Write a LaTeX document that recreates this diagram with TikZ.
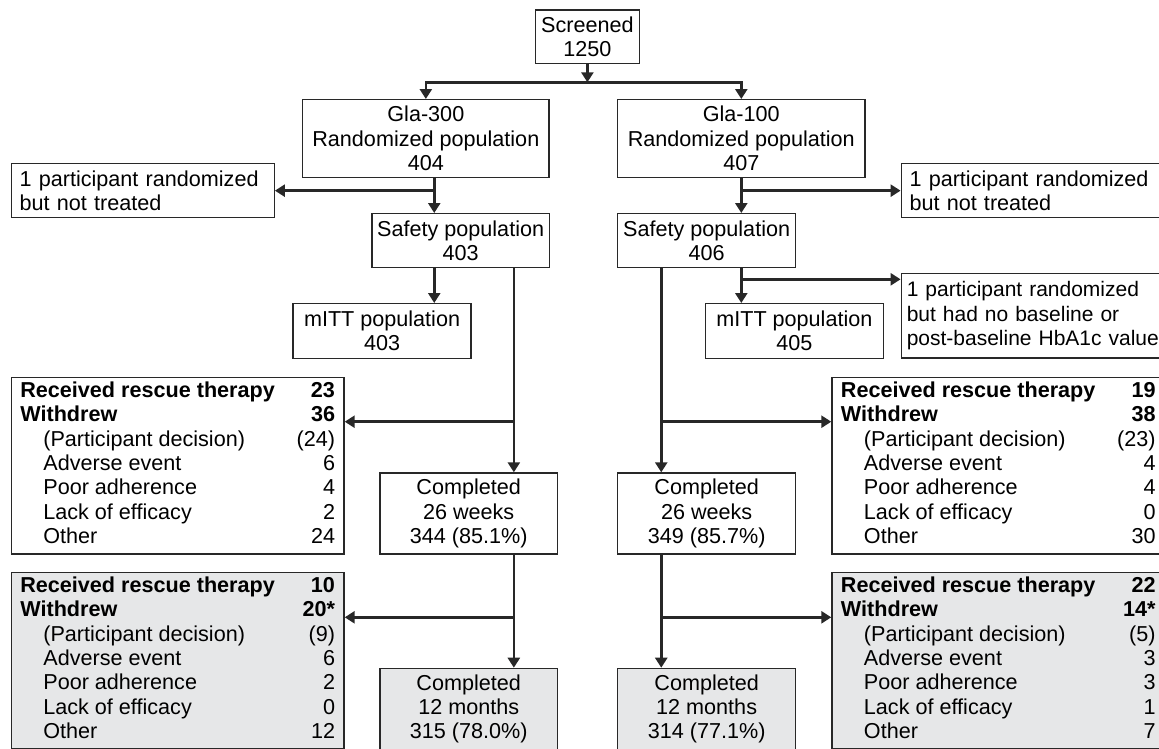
\documentclass[tikz,border=0pt]{standalone}
\usepackage{fontspec}
\setmainfont{Liberation Sans}
\usepackage{tikz}
\usetikzlibrary{arrows.meta}
\usetikzlibrary{calc}
\usetikzlibrary{positioning}

\definecolor{boxgray}{RGB}{230,231,232}
\definecolor{linegray}{RGB}{40,40,40}

\newcommand{\dropouts}[7]{%
  \begin{tabular*}{314.7pt}{@{}l@{\extracolsep{\fill}}r@{}}
  \textbf{Received rescue therapy} & \textbf{#1}\\
  \textbf{Withdrew} & \textbf{#2}\\
  \hspace{23pt}(Participant decision) & #3\\
  \hspace{23pt}Adverse event & #4\\
  \hspace{23pt}Poor adherence & #5\\
  \hspace{23pt}Lack of efficacy & #6\\
  \hspace{23pt}Other & #7
  \end{tabular*}}

\begin{document}
\begin{tikzpicture}[
  x=1pt, y=-1pt,
  > = {Triangle[length=10pt,width=12pt]},
  every node/.style = {font=\fontsize{21.6}{24.3}\selectfont, text=black},
  box/.style = {draw=linegray, line width=1.3pt, inner sep=0pt, anchor=north west, align=center},
  note/.style = {box, align=left, inner xsep=8.3pt},
  tally/.style = {box, inner xsep=9pt, inner ysep=0pt, minimum height=176.6pt},
  shaded/.style = {fill=boxgray},
  flow/.style = {->, draw=linegray, line width=2.6pt}
  ]
	\useasboundingbox (0,0) rectangle (1159,748);

	\node[box, minimum width=103.5pt, minimum height=53.4pt] (scr) at (535,9.3) {Screened\\1250};
	\node[box, minimum width=246.4pt, minimum height=77.7pt] (g300) at (302,99) {Gla-300\\Randomized population\\404};
	\node[box, minimum width=247.3pt, minimum height=77.7pt] (g100) at (617,99) {Gla-100\\Randomized population\\407};

	\node[note, text width=246.3pt, minimum height=54pt] (nt300) at (10.7,163) {1 participant randomized\\but not treated};
	\node[note, text width=246.3pt, minimum height=54pt] (nt100) at (900.6,163) {1 participant randomized\\but not treated};

	\node[box, minimum width=177.6pt, minimum height=54pt] (saf300) at (371.2,213) {Safety population\\403};
	\node[box, minimum width=178pt, minimum height=54pt] (saf100) at (617,213) {Safety population\\406};
	\node[box, minimum width=178pt, minimum height=54.7pt] (mitt300) at (292.4,303) {mITT population\\403};
	\node[box, minimum width=178pt, minimum height=54.7pt] (mitt100) at (704.7,303) {mITT population\\405};
	\node[note, inner xsep=5.5pt, text width=262pt, minimum height=84.6pt, font=\fontsize{21}{24.3}\selectfont] (nb100) at (900.6,272.7) {1 participant randomized\\but had no baseline or\\post-baseline HbA1c value};

	\node[tally] (wd300a) at (10.7,376.7) {\dropouts{23}{36}{(24)}{6}{4}{2}{24}};
	\node[tally] (wd100a) at (831.3,376.7) {\dropouts{19}{38}{(23)}{4}{4}{0}{30}};
	\node[box, minimum width=177.5pt, minimum height=81pt] (c26a) at (379.3,472.3) {Completed\\26 weeks\\344 (85.1\%)};
	\node[box, minimum width=178pt, minimum height=81pt] (c26b) at (617,472.3) {Completed\\26 weeks\\349 (85.7\%)};

	\node[tally, shaded] (wd300b) at (10.7,571.7) {\dropouts{10}{20*}{(9)}{6}{2}{0}{12}};
	\node[tally, shaded] (wd100b) at (831.3,571.7) {\dropouts{22}{14*}{(5)}{3}{3}{1}{7}};
	\node[box, shaded, minimum width=177.5pt, minimum height=81pt] (c12a) at (379.3,667.7) {Completed\\12 months\\315 (78.0\%)};
	\node[box, shaded, minimum width=178pt, minimum height=81pt] (c12b) at (617,667.7) {Completed\\12 months\\314 (77.1\%)};

	\coordinate (split) at ($(scr.south)+(0,18.3)$);
	\coordinate (p300) at ([xshift=8.4pt]g300.south);
	\coordinate (p100) at (g100.south |- saf100.south);
	\coordinate (q300) at ([xshift=53.2pt]saf300.south);
	\coordinate (q100) at ([xshift=-45.4pt]saf100.south);
	\coordinate (nbin) at ([yshift=-6.6pt]nb100.north west);
	\coordinate (in300a) at ([yshift=-45pt]wd300a.north east);
	\coordinate (in300b) at ([yshift=-45.6pt]wd300b.north east);
	\coordinate (in100a) at ([yshift=-45pt]wd100a.north west);
	\coordinate (in100b) at ([yshift=-45.6pt]wd100b.north west);

	\draw[flow] (scr.south) -- (split);
	\draw[flow] (split) -| (g300.north);
	\draw[flow] (split) -| (g100.north);

	\draw[flow] (p300) -- (p300 |- saf300.north);
	\draw[flow] (p300 |- nt300.east) -- (nt300.east);
	\draw[flow] (p300 |- saf300.south) -- (p300 |- mitt300.north);

	\draw[flow] (g100.south) -- (g100.south |- saf100.north);
	\draw[flow] (g100.south |- nt100.west) -- (nt100.west);
	\draw[flow] (p100) -- (p100 |- mitt100.north);
	\draw[flow] (p100 |- nbin) -- (nbin);

	\draw[flow] (q300) -- (q300 |- c26a.north);
	\draw[flow] (q300 |- in300a) -- (in300a);
	\draw[flow] (q300 |- c26a.south) -- (q300 |- c12a.north);
	\draw[flow] (q300 |- in300b) -- (in300b);

	\draw[flow] (q100) -- (q100 |- c26b.north);
	\draw[flow] (q100 |- in100a) -- (in100a);
	\draw[flow] (q100 |- c26b.south) -- (q100 |- c12b.north);
	\draw[flow] (q100 |- in100b) -- (in100b);

\end{tikzpicture}
\end{document}
